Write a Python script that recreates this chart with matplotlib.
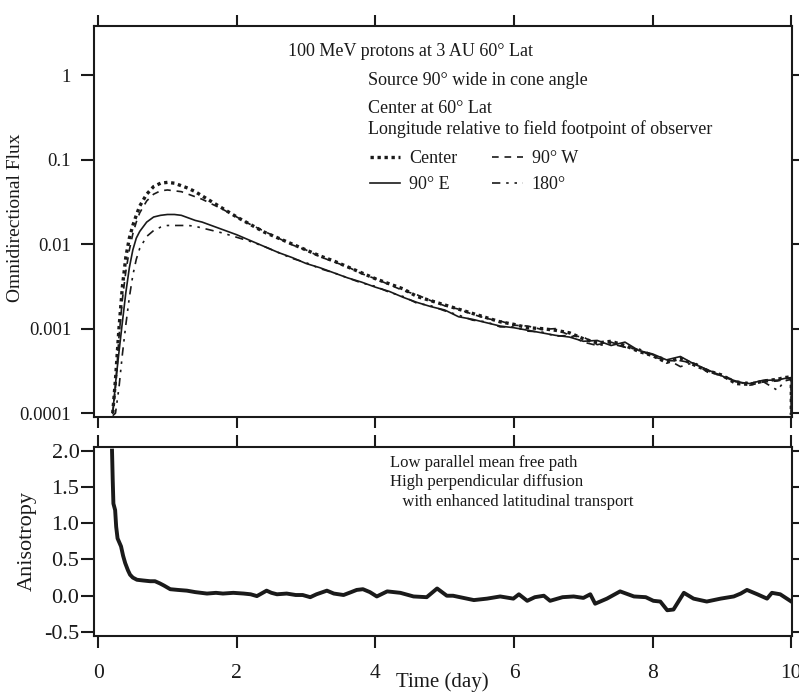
import numpy as np
import matplotlib
matplotlib.use("Agg")
import matplotlib.pyplot as plt
from matplotlib.ticker import FixedLocator, NullLocator, FixedFormatter

plt.rcParams['font.family'] = ['Liberation Serif', 'DejaVu Serif']
plt.rcParams['mathtext.fontset'] = 'stix'

# ---------------- data ----------------
time_days = [0.21, 0.25, 0.30, 0.35, 0.40, 0.45, 0.50, 0.55, 0.60,
             0.70, 0.80, 0.90, 1.00, 1.10, 1.20, 1.30, 1.40, 1.50, 1.60,
             1.80, 2.00, 2.20, 2.40, 2.60, 2.80, 3.00, 3.20, 3.40, 3.60, 3.80,
             4.00, 4.20, 4.40, 4.60, 4.80, 5.00, 5.20, 5.40, 5.60, 5.80,
             6.00, 6.20, 6.40, 6.60, 6.80, 7.00, 7.20, 7.40, 7.60, 7.80,
             8.00, 8.20, 8.40, 8.60, 8.80, 9.00, 9.20, 9.40, 9.60, 9.80,
             9.90, 10.00, 10.00]

# log10 of omnidirectional flux
center_log10 = [-4.00, -3.60, -3.00, -2.50, -2.15, -1.93, -1.78, -1.66, -1.55,
                -1.41, -1.32, -1.28, -1.27, -1.28, -1.31, -1.34, -1.38, -1.43, -1.48,
                -1.58, -1.68, -1.77, -1.86, -1.93, -2.00, -2.07, -2.14, -2.20, -2.27, -2.34,
                -2.41, -2.47, -2.53, -2.62, -2.67, -2.72, -2.77, -2.82, -2.87, -2.92,
                -2.95, -2.99, -3.00, -3.02, -3.05, -3.12, -3.17, -3.15, -3.20, -3.27,
                -3.32, -3.40, -3.35, -3.43, -3.50, -3.55, -3.65, -3.66, -3.62, -3.60,
                -3.58, -3.57, -4.02]
west90_log10 = [-4.00, -3.70, -3.10, -2.65, -2.32, -2.07, -1.88, -1.74, -1.63,
                -1.49, -1.41, -1.37, -1.36, -1.37, -1.38, -1.41, -1.44, -1.47, -1.51,
                -1.59, -1.68, -1.77, -1.85, -1.93, -2.01, -2.07, -2.15, -2.21, -2.27, -2.35,
                -2.41, -2.48, -2.55, -2.60, -2.67, -2.73, -2.77, -2.83, -2.88, -2.91,
                -2.96, -2.97, -3.01, -3.00, -3.08, -3.10, -3.19, -3.16, -3.22, -3.25,
                -3.33, -3.38, -3.38, -3.41, -3.52, -3.55, -3.62, -3.67, -3.63, -3.62,
                -3.60, -3.58, -4.02]
east90_log10 = [-4.00, -3.65, -3.28, -2.92, -2.57, -2.28, -2.07, -1.93, -1.85,
                -1.74, -1.68, -1.66, -1.65, -1.65, -1.66, -1.69, -1.72, -1.74, -1.77,
                -1.83, -1.89, -1.96, -2.03, -2.10, -2.16, -2.23, -2.28, -2.34, -2.40, -2.45,
                -2.51, -2.56, -2.63, -2.69, -2.74, -2.78, -2.86, -2.89, -2.93, -2.97,
                -2.99, -3.02, -3.05, -3.08, -3.10, -3.15, -3.14, -3.20, -3.16, -3.26,
                -3.30, -3.37, -3.33, -3.42, -3.49, -3.56, -3.63, -3.65, -3.61, -3.61,
                -3.59, -3.58, -4.02]
lon180_log10 = [-4.03, -4.00, -3.70, -3.30, -2.95, -2.63, -2.37, -2.18, -2.05,
                -1.91, -1.84, -1.80, -1.78, -1.78, -1.78, -1.78, -1.79, -1.81, -1.83,
                -1.87, -1.92, -1.97, -2.03, -2.10, -2.17, -2.22, -2.29, -2.34, -2.40, -2.46,
                -2.50, -2.57, -2.62, -2.70, -2.73, -2.79, -2.84, -2.90, -2.92, -2.98,
                -2.98, -3.03, -3.04, -3.09, -3.08, -3.16, -3.20, -3.18, -3.22, -3.24,
                -3.31, -3.36, -3.45, -3.40, -3.50, -3.57, -3.62, -3.64, -3.63, -3.73,
                -3.62, -3.60, -4.02]

aniso_time = [0.20, 0.21, 0.22, 0.245, 0.26, 0.28, 0.33, 0.36, 0.39, 0.43, 0.46,
              0.50, 0.56, 0.65, 0.75, 0.82, 0.89, 0.95, 1.04, 1.15, 1.28, 1.40,
              1.57, 1.70, 1.80, 1.95, 2.10, 2.20, 2.29, 2.43, 2.50, 2.58, 2.72,
              2.85, 2.95, 3.06, 3.15, 3.30, 3.40, 3.54, 3.65, 3.73, 3.82, 3.92,
              4.02, 4.17, 4.36, 4.55, 4.74, 4.89, 5.03, 5.12, 5.22, 5.32, 5.42,
              5.61, 5.80, 5.99, 6.07, 6.19, 6.30, 6.43, 6.52, 6.70, 6.86, 7.00,
              7.10, 7.17, 7.34, 7.53, 7.73, 7.90, 8.01, 8.11, 8.21, 8.30, 8.45,
              8.59, 8.78, 8.98, 9.17, 9.27, 9.36, 9.51, 9.65, 9.72, 9.84, 10.00]
aniso_value = [2.00, 1.60, 1.27, 1.18, 0.95, 0.79, 0.68, 0.55, 0.45, 0.35, 0.29,
               0.25, 0.22, 0.21, 0.20, 0.20, 0.17, 0.14, 0.09, 0.08, 0.07, 0.05,
               0.03, 0.04, 0.03, 0.04, 0.03, 0.02, -0.005, 0.07, 0.04, 0.02, 0.03,
               0.01, 0.01, -0.02, 0.02, 0.07, 0.03, 0.01, 0.05, 0.08, 0.09, 0.05,
               -0.01, 0.06, 0.04, -0.01, -0.02, 0.10, 0.00, 0.00, -0.02, -0.04, -0.06,
               -0.04, -0.01, -0.04, 0.02, -0.07, -0.02, 0.00, -0.07, -0.02, -0.01, -0.03,
               0.02, -0.11, -0.04, 0.06, -0.01, -0.02, -0.07, -0.08, -0.20, -0.19, 0.04,
               -0.04, -0.08, -0.04, -0.01, 0.03, 0.08, 0.02, -0.04, 0.04, 0.02, -0.08]

flux_ticks = [0.0001, 0.001, 0.01, 0.1, 1]
flux_tick_labels = ['0.0001', '0.001', '0.01', '0.1', '1']
aniso_ticks = [-0.5, 0.0, 0.5, 1.0, 1.5, 2.0]
aniso_tick_labels = ['-0.5', '0.0', '0.5', '1.0', '1.5', '2.0']
time_ticks = [0, 2, 4, 6, 8, 10]

# ---------------- figure ----------------
W, H = 799, 692
fig = plt.figure(figsize=(W / 100, H / 100), dpi=100)
ink = '#1a1a1a'

def frac(l, t, r, b):
    return [l / W, 1 - b / H, (r - l) / W, (b - t) / H]

ax1 = fig.add_axes(frac(94, 26, 792, 417))
ax2 = fig.add_axes(frac(94, 447, 792, 636))

t = np.array(time_days)
ax1.plot(t, 10 ** np.array(center_log10), color=ink, lw=2.4, ls=(0, (1.0, 1.1)),
         label='Center')
ax1.plot(t, 10 ** np.array(east90_log10), color=ink, lw=1.2, ls='-', label='90° E')
ax1.plot(t, 10 ** np.array(west90_log10), color=ink, lw=1.2, ls=(0, (4, 3.5)),
         label='90° W')
ax1.plot(t, 10 ** np.array(lon180_log10), color=ink, lw=1.2,
         ls=(0, (5, 3.5, 1.5, 3.5, 1.5, 3.5)), label='180°')

ax1.set_yscale('log')
ax1.set_xlim(-0.06, 10.01)
ax1.set_ylim(9.0e-5, 3.8)
ax1.yaxis.set_major_locator(FixedLocator(flux_ticks))
ax1.yaxis.set_major_formatter(FixedFormatter(flux_tick_labels))
ax1.yaxis.set_minor_locator(NullLocator())
ax1.xaxis.set_major_locator(FixedLocator(time_ticks))
ax1.tick_params(axis='both', which='major', direction='out', length=9.5, width=1.5,
                colors=ink, labelsize=13.5, pad=7,
                top=True, right=True, bottom=True, left=True,
                labelbottom=False, labeltop=False, labelright=False)
ax1.tick_params(axis='x', which='major', bottom=True, length=8)
for s in ax1.spines.values():
    s.set_linewidth(1.5)
    s.set_color(ink)
ax1.set_ylabel('Omnidirectional Flux', fontsize=14, color=ink)
ax1.yaxis.set_label_coords(-0.100, 0.509)

txt_kw = dict(transform=ax1.transAxes, fontsize=13, color=ink, va='center', ha='left')
ax1.text(0.278, 0.936, '100 MeV protons at 3 AU 60° Lat', **txt_kw)
ax1.text(0.3926, 0.860, 'Source 90° wide in cone angle', **txt_kw)
ax1.text(0.3926, 0.790, 'Center at 60° Lat', **txt_kw)
ax1.text(0.3926, 0.737, 'Longitude relative to field footpoint of observer', **txt_kw)

h, l = ax1.get_legend_handles_labels()
leg = ax1.legend(h, l, ncol=2, loc='upper left', bbox_to_anchor=(0.395, 0.683),
                 frameon=False, fontsize=13, handlelength=1.7, handletextpad=0.5,
                 columnspacing=1.9, labelspacing=0.52, borderpad=0, borderaxespad=0)
for txt in leg.get_texts():
    txt.set_color(ink)

ax2.plot(aniso_time, aniso_value, color=ink, lw=2.8, solid_joinstyle='round')
ax2.set_xlim(-0.06, 10.01)
ax2.set_ylim(-0.555, 2.05)
ax2.yaxis.set_major_locator(FixedLocator(aniso_ticks))
ax2.yaxis.set_major_formatter(FixedFormatter(aniso_tick_labels))
ax2.xaxis.set_major_locator(FixedLocator(time_ticks))
ax2.tick_params(axis='both', which='major', direction='out', length=9.5, width=1.5,
                colors=ink, labelsize=16, top=True, right=True,
                labelright=False, labeltop=False)
ax2.tick_params(axis='y', pad=1)
ax2.tick_params(axis='x', pad=12, labelsize=15.5)
ax2.tick_params(axis='x', which='major', top=True, length=8.5)
for s in ax2.spines.values():
    s.set_linewidth(1.5)
    s.set_color(ink)
ax2.set_ylabel('Anisotropy', fontsize=16, color=ink)
ax2.yaxis.set_label_coords(-0.082, 0.503)
ax2.set_xlabel('Time (day)', fontsize=15, color=ink)
ax2.xaxis.set_label_coords(0.4986, -0.193)

txt2 = dict(transform=ax2.transAxes, fontsize=12, color=ink, va='center', ha='left')
ax2.text(0.424, 0.915, 'Low parallel mean free path', **txt2)
ax2.text(0.424, 0.815, 'High perpendicular diffusion', **txt2)
ax2.text(0.424, 0.709, '   with enhanced latitudinal transport', **txt2)

fig.savefig('out.png', dpi=100)
